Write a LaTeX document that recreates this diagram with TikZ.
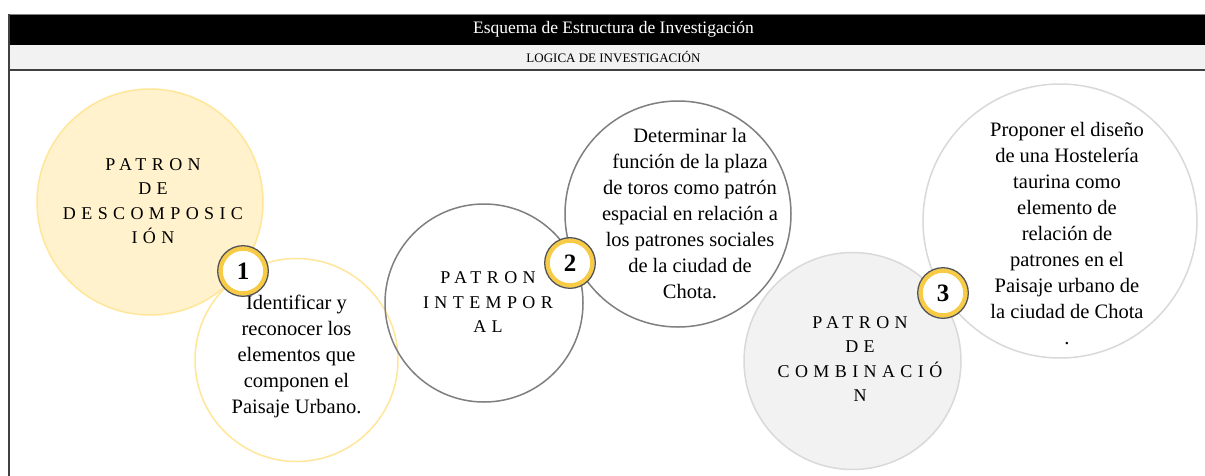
\documentclass[tikz,border=0pt]{standalone}
\usepackage{fontspec}
\setmainfont{Liberation Serif}
\newfontfamily\spacedfont[LetterSpace=30]{Liberation Serif}
\definecolor{yfill}{HTML}{FFF2CC}
\definecolor{yline}{HTML}{FFE699}
\definecolor{gline}{HTML}{7F7F7F}
\definecolor{lgfill}{HTML}{F2F2F2}
\definecolor{lgline}{HTML}{D9D9D9}
\definecolor{gold}{HTML}{F7CB45}
\definecolor{frameline}{HTML}{404040}
\tikzset{
  bubble/.style={circle, inner sep=0pt, line width=1.5pt},
  bodytext/.style={align=center, inner sep=0pt, font=\fontsize{20.5}{26}\selectfont},
  spacedtext/.style={align=center, inner sep=0pt, font=\spacedfont\fontsize{18}{24.5}\selectfont},
  badge/.style={circle, inner sep=0pt, minimum size=45pt, fill=white, draw=gold, line width=4.5pt,
    font=\bfseries\fontsize{25}{25}\selectfont},
  badgering/.style={draw=frameline!90, line width=1.3pt}
}
\begin{document}
\begin{tikzpicture}[x=1pt,y=-1pt]
\useasboundingbox (0,0) rectangle (1205,475);
\fill[white] (0,0) rectangle (1205,475);

% header
\node[fill=black, draw=gray, line width=1pt, minimum width=1211pt, minimum height=31pt, inner sep=0pt,
  text=white, font=\fontsize{17.5}{17.5}\selectfont] (title) at (613.5,29.5) {Esquema de Estructura de Investigación};
\node[fill=lgfill, minimum width=1211pt, minimum height=25pt, inner sep=0pt,
  font=\fontsize{13}{13}\selectfont] (sub) at (613.5,57.5) {LOGICA DE INVESTIGACIÓN};
\draw[frameline, line width=2pt] (sub.south west) -- (sub.south east);
\coordinate (fl) at (9,14);
\coordinate (fb) at (9,480);
\draw[frameline, line width=2pt] (fl) -- (fb);

% circles
\node[bubble, fill=yfill, draw=yline, minimum size=226pt] (c1) at (150,202) {};
\node[bubble, fill=lgfill, draw=lgline, minimum size=217pt] (c5) at (852.5,361) {};
\node[bubble, draw=yline, minimum size=203pt] (c2) at (296.5,360) {};
\node[bubble, draw=gline, minimum size=198pt] (c3) at (484,303) {};
\node[bubble, draw=gline, minimum size=226pt] (c4) at (678,214) {};
\node[bubble, draw=lgline, minimum size=274pt] (c6) at (1060,221) {};

% texts
\node[spacedtext] (t1) at (153,201) {PATRON\\DE\\DESCOMPOSIC\\IÓN};
\node[bodytext] (t2) at (296.5,356) {Identificar y\\reconocer los\\elementos que\\componen el\\Paisaje Urbano.};
\node[spacedtext] (t3) at (488,302.5) {PATRON\\INTEMPOR\\AL};
\node[bodytext] (t4) at (690,213.5) {Determinar la\\función de la plaza\\de toros como patrón\\espacial en relación a\\los patrones sociales\\de la ciudad de\\Chota.};
\node[spacedtext] (t5) at (860,359) {PATRON\\DE\\COMBINACIÓ\\N};
\node[bodytext] (t6) at (1067,234) {Proponer el diseño\\de una Hostelería\\taurina como\\elemento de\\relación de\\patrones en el\\Paisaje urbano de\\la ciudad de Chota\\.};

% badges
\node[badge] (b1) at (243,271) {1};
\draw[badgering] (b1.center) circle (25.3pt);
\node[badge] (b2) at (570,263) {2};
\draw[badgering] (b2.center) circle (25.3pt);
\node[badge] (b3) at (943,293) {3};
\draw[badgering] (b3.center) circle (25.3pt);
\end{tikzpicture}
\end{document}
